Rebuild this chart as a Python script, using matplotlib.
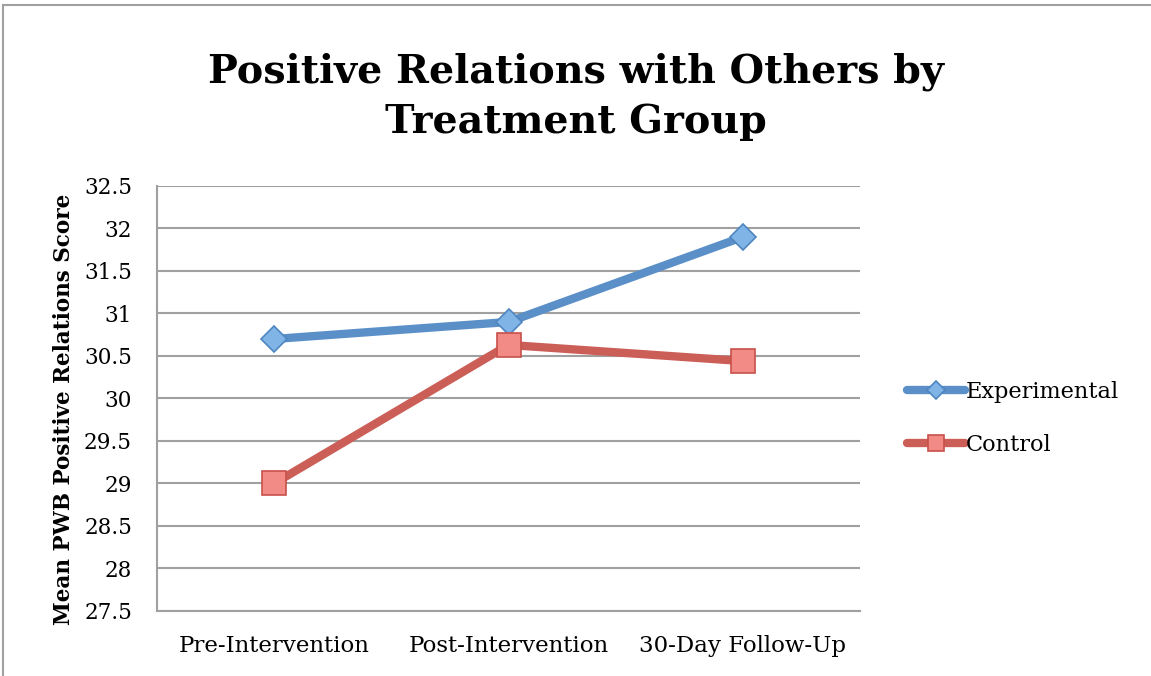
import matplotlib
matplotlib.use('Agg')
import matplotlib.pyplot as plt
from matplotlib.lines import Line2D

categories = ['Pre-Intervention', 'Post-Intervention', '30-Day Follow-Up']
experimental = [30.7, 30.9, 31.9]
control = [29.0, 30.63, 30.44]
yticks = [27.5, 28, 28.5, 29, 29.5, 30, 30.5, 31, 31.5, 32, 32.5]
ytick_labels = ['27.5', '28', '28.5', '29', '29.5', '30', '30.5', '31', '31.5', '32', '32.5']

plt.rcParams['font.family'] = ['DejaVu Serif']

fig = plt.figure(figsize=(11.51, 6.76), dpi=100)
ax = fig.add_axes([0.1364, 0.0962, 0.7472 - 0.1364, 0.7249 - 0.0962])

# outer chart border (only left and top visible in the reference)
fig.add_artist(Line2D([0.003, 0.003], [0.0, 0.992], transform=fig.transFigure, color='#a0a0a0', lw=1.5))
fig.add_artist(Line2D([0.003, 1.0], [0.992, 0.992], transform=fig.transFigure, color='#a0a0a0', lw=1.5))

x = range(len(categories))
ax.plot(x, experimental, color='#5A8FC8', lw=6, marker='D', markersize=13.5,
        markerfacecolor='#80B3E6', markeredgecolor='#4F86C0', markeredgewidth=1.2,
        solid_capstyle='round', label='Experimental', zorder=3)
ax.plot(x, control, color='#CC5E58', lw=6, marker='s', markersize=17,
        markerfacecolor='#F28B85', markeredgecolor='#C8504A', markeredgewidth=1.2,
        solid_capstyle='round', label='Control', zorder=3)

ax.set_xlim(-0.5, 2.5)
ax.set_ylim(27.5, 32.5)
ax.set_xticks(list(x))
ax.set_xticklabels(categories)
ax.set_yticks(yticks)
ax.set_yticklabels(ytick_labels)
ax.tick_params(axis='both', length=0)
ax.tick_params(axis='y', pad=18, labelsize=15.5)
ax.tick_params(axis='x', pad=17, labelsize=16.5)
ax.yaxis.grid(True, color='#a0a0a0', lw=1.5)
ax.set_axisbelow(True)
for s in ['top', 'right']:
    ax.spines[s].set_visible(False)
ax.spines['left'].set_color('#a0a0a0')
ax.spines['left'].set_linewidth(1.5)
ax.spines['bottom'].set_color('#a0a0a0')
ax.spines['bottom'].set_linewidth(1.5)

ax.set_ylabel('Mean PWB Positive Relations Score', fontsize=15.5, fontweight='bold')
ax.yaxis.set_label_coords(-0.117, 0.475)

fig.text(0.5, 0.857, 'Positive Relations with Others by\nTreatment Group', ha='center', va='center',
         fontsize=28.5, fontweight='bold', linespacing=1.38)

leg = ax.legend(loc='center left', bbox_to_anchor=(1.038, 0.453), frameon=False, fontsize=16.2,
                handlelength=2.6, handletextpad=0.0, labelspacing=1.35, markerscale=0.7)

fig.savefig('out.png', dpi=100)
